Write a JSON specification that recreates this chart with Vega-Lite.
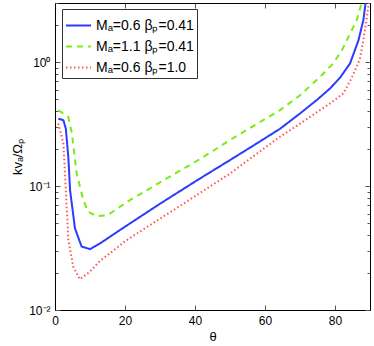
{
  "$schema": "https://vega.github.io/schema/vega-lite/v6.json",
  "width": 315,
  "height": 307,
  "autosize": {"type": "none"},
  "padding": {"left": 55, "top": 3, "right": 4, "bottom": 36},
  "background": "white",
  "config": {
    "view": {"stroke": "black", "strokeWidth": 1},
    "font": "Liberation Sans",
    "axis": {
      "labelFont": "Liberation Sans",
      "titleFont": "Liberation Sans",
      "labelFontSize": 12,
      "titleFontSize": 13,
      "titleFontWeight": "normal",
      "labelColor": "black",
      "titleColor": "black",
      "domainColor": "black",
      "tickColor": "#555",
      "grid": false
    }
  },
  "data": {
    "values": [
      {"series": "Mₐ=0.6 βₚ=0.41", "theta": 0.95, "k": 0.35},
      {"series": "Mₐ=0.6 βₚ=0.41", "theta": 2.4, "k": 0.34},
      {"series": "Mₐ=0.6 βₚ=0.41", "theta": 3.1, "k": 0.29},
      {"series": "Mₐ=0.6 βₚ=0.41", "theta": 3.8, "k": 0.172},
      {"series": "Mₐ=0.6 βₚ=0.41", "theta": 4.3, "k": 0.093},
      {"series": "Mₐ=0.6 βₚ=0.41", "theta": 5.7, "k": 0.0456},
      {"series": "Mₐ=0.6 βₚ=0.41", "theta": 7.6, "k": 0.0325},
      {"series": "Mₐ=0.6 βₚ=0.41", "theta": 10, "k": 0.031},
      {"series": "Mₐ=0.6 βₚ=0.41", "theta": 12.9, "k": 0.0345},
      {"series": "Mₐ=0.6 βₚ=0.41", "theta": 15.7, "k": 0.039},
      {"series": "Mₐ=0.6 βₚ=0.41", "theta": 20, "k": 0.047},
      {"series": "Mₐ=0.6 βₚ=0.41", "theta": 30, "k": 0.072},
      {"series": "Mₐ=0.6 βₚ=0.41", "theta": 35.7, "k": 0.091},
      {"series": "Mₐ=0.6 βₚ=0.41", "theta": 41.4, "k": 0.115},
      {"series": "Mₐ=0.6 βₚ=0.41", "theta": 50, "k": 0.162},
      {"series": "Mₐ=0.6 βₚ=0.41", "theta": 57, "k": 0.215},
      {"series": "Mₐ=0.6 βₚ=0.41", "theta": 64.3, "k": 0.29},
      {"series": "Mₐ=0.6 βₚ=0.41", "theta": 70, "k": 0.385},
      {"series": "Mₐ=0.6 βₚ=0.41", "theta": 75, "k": 0.5},
      {"series": "Mₐ=0.6 βₚ=0.41", "theta": 78.6, "k": 0.614},
      {"series": "Mₐ=0.6 βₚ=0.41", "theta": 81.5, "k": 0.753},
      {"series": "Mₐ=0.6 βₚ=0.41", "theta": 84.3, "k": 0.976},
      {"series": "Mₐ=0.6 βₚ=0.41", "theta": 86.7, "k": 1.5},
      {"series": "Mₐ=0.6 βₚ=0.41", "theta": 88.1, "k": 2.18},
      {"series": "Mₐ=0.6 βₚ=0.41", "theta": 88.7, "k": 2.96},
      {"series": "Mₐ=0.6 βₚ=0.41", "theta": 89.3, "k": 4.0},
      {"series": "Mₐ=1.1 βₚ=0.41", "theta": 0.95, "k": 0.41},
      {"series": "Mₐ=1.1 βₚ=0.41", "theta": 3.3, "k": 0.37},
      {"series": "Mₐ=1.1 βₚ=0.41", "theta": 3.8, "k": 0.36},
      {"series": "Mₐ=1.1 βₚ=0.41", "theta": 4.8, "k": 0.27},
      {"series": "Mₐ=1.1 βₚ=0.41", "theta": 6.2, "k": 0.126},
      {"series": "Mₐ=1.1 βₚ=0.41", "theta": 8.1, "k": 0.077},
      {"series": "Mₐ=1.1 βₚ=0.41", "theta": 9.5, "k": 0.062},
      {"series": "Mₐ=1.1 βₚ=0.41", "theta": 11.9, "k": 0.057},
      {"series": "Mₐ=1.1 βₚ=0.41", "theta": 14.3, "k": 0.058},
      {"series": "Mₐ=1.1 βₚ=0.41", "theta": 15.7, "k": 0.06},
      {"series": "Mₐ=1.1 βₚ=0.41", "theta": 21.4, "k": 0.077},
      {"series": "Mₐ=1.1 βₚ=0.41", "theta": 30, "k": 0.107},
      {"series": "Mₐ=1.1 βₚ=0.41", "theta": 35.7, "k": 0.133},
      {"series": "Mₐ=1.1 βₚ=0.41", "theta": 41.4, "k": 0.165},
      {"series": "Mₐ=1.1 βₚ=0.41", "theta": 50, "k": 0.235},
      {"series": "Mₐ=1.1 βₚ=0.41", "theta": 57, "k": 0.309},
      {"series": "Mₐ=1.1 βₚ=0.41", "theta": 64.3, "k": 0.41},
      {"series": "Mₐ=1.1 βₚ=0.41", "theta": 70, "k": 0.54},
      {"series": "Mₐ=1.1 βₚ=0.41", "theta": 75.7, "k": 0.76},
      {"series": "Mₐ=1.1 βₚ=0.41", "theta": 79.5, "k": 0.977},
      {"series": "Mₐ=1.1 βₚ=0.41", "theta": 82, "k": 1.25},
      {"series": "Mₐ=1.1 βₚ=0.41", "theta": 84.3, "k": 1.7},
      {"series": "Mₐ=1.1 βₚ=0.41", "theta": 86.2, "k": 2.18},
      {"series": "Mₐ=1.1 βₚ=0.41", "theta": 87.6, "k": 3.0},
      {"series": "Mₐ=1.1 βₚ=0.41", "theta": 88.3, "k": 3.8},
      {"series": "Mₐ=0.6 βₚ=1.0", "theta": 0.95, "k": 0.32},
      {"series": "Mₐ=0.6 βₚ=1.0", "theta": 2.4, "k": 0.22},
      {"series": "Mₐ=0.6 βₚ=1.0", "theta": 3.1, "k": 0.093},
      {"series": "Mₐ=0.6 βₚ=1.0", "theta": 3.8, "k": 0.037},
      {"series": "Mₐ=0.6 βₚ=1.0", "theta": 5.2, "k": 0.0224},
      {"series": "Mₐ=0.6 βₚ=1.0", "theta": 7.1, "k": 0.0177},
      {"series": "Mₐ=0.6 βₚ=1.0", "theta": 10, "k": 0.0204},
      {"series": "Mₐ=0.6 βₚ=1.0", "theta": 12.9, "k": 0.025},
      {"series": "Mₐ=0.6 βₚ=1.0", "theta": 15.7, "k": 0.0287},
      {"series": "Mₐ=0.6 βₚ=1.0", "theta": 20, "k": 0.0359},
      {"series": "Mₐ=0.6 βₚ=1.0", "theta": 25.7, "k": 0.0456},
      {"series": "Mₐ=0.6 βₚ=1.0", "theta": 30, "k": 0.0546},
      {"series": "Mₐ=0.6 βₚ=1.0", "theta": 35.7, "k": 0.069},
      {"series": "Mₐ=0.6 βₚ=1.0", "theta": 41.4, "k": 0.088},
      {"series": "Mₐ=0.6 βₚ=1.0", "theta": 50, "k": 0.126},
      {"series": "Mₐ=0.6 βₚ=1.0", "theta": 57, "k": 0.177},
      {"series": "Mₐ=0.6 βₚ=1.0", "theta": 64.3, "k": 0.25},
      {"series": "Mₐ=0.6 βₚ=1.0", "theta": 68.6, "k": 0.3},
      {"series": "Mₐ=0.6 βₚ=1.0", "theta": 72.9, "k": 0.362},
      {"series": "Mₐ=0.6 βₚ=1.0", "theta": 75.7, "k": 0.41},
      {"series": "Mₐ=0.6 βₚ=1.0", "theta": 78.6, "k": 0.464},
      {"series": "Mₐ=0.6 βₚ=1.0", "theta": 82.4, "k": 0.56},
      {"series": "Mₐ=0.6 βₚ=1.0", "theta": 84.6, "k": 0.73},
      {"series": "Mₐ=0.6 βₚ=1.0", "theta": 86.2, "k": 0.92},
      {"series": "Mₐ=0.6 βₚ=1.0", "theta": 87.1, "k": 1.06},
      {"series": "Mₐ=0.6 βₚ=1.0", "theta": 88.1, "k": 1.5},
      {"series": "Mₐ=0.6 βₚ=1.0", "theta": 89.1, "k": 2.3},
      {"series": "Mₐ=0.6 βₚ=1.0", "theta": 89.9, "k": 3.4}
    ]
  },
  "resolve": {"axis": {"x": "independent", "y": "independent"}},
  "layer": [
    {
      "mark": {"type": "line", "clip": true, "strokeWidth": 2},
      "encoding": {
        "x": {
          "field": "theta", "type": "quantitative",
          "scale": {"domain": [0, 90], "nice": false, "zero": false},
          "axis": {"values": [0, 20, 40, 60, 80], "title": "θ", "tickSize": -5, "labelPadding": 10, "titlePadding": 4, "labelFlush": false}
        },
        "y": {
          "field": "k", "type": "quantitative",
          "scale": {"type": "log", "domain": [0.01, 3], "nice": false},
          "axis": {
            "title": "kvₐ/Ωₚ",
            "values": [0.01, 0.02, 0.03, 0.04, 0.05, 0.06, 0.07, 0.08, 0.09, 0.1, 0.2, 0.3, 0.4, 0.5, 0.6, 0.7, 0.8, 0.9, 1, 2, 3],
            "labelExpr": "datum.value == 0.01 ? '10⁻²' : datum.value == 0.1 ? '10⁻¹' : datum.value == 1 ? '10⁰' : ''",
            "tickSize": {"condition": {"test": "datum.value == 0.01 || datum.value == 0.1 || datum.value == 1", "value": -5}, "value": -3},
            "labelPadding": 10,
            "titlePadding": 4,
            "labelFlush": false
          }
        },
        "color": {
          "field": "series", "type": "nominal",
          "scale": {"domain": ["Mₐ=0.6 βₚ=0.41", "Mₐ=1.1 βₚ=0.41", "Mₐ=0.6 βₚ=1.0"], "range": ["#2b3bff", "#77ee11", "#ff5555"]},
          "legend": {
            "title": null, "orient": "none", "legendX": 7, "legendY": 6,
            "strokeColor": "#333", "fillColor": "white", "padding": 3,
            "symbolType": "stroke", "symbolSize": 625, "symbolStrokeWidth": 2,
            "labelFont": "Liberation Sans", "labelFontSize": 14, "labelColor": "black",
            "rowPadding": -2, "labelOffset": 4, "labelLimit": 200
          }
        },
        "strokeDash": {
          "field": "series", "type": "nominal",
          "scale": {"domain": ["Mₐ=0.6 βₚ=0.41", "Mₐ=1.1 βₚ=0.41", "Mₐ=0.6 βₚ=1.0"], "range": [[1, 0], [6, 5], [1.5, 2.5]]},
          "legend": null
        }
      }
    },
    {
      "mark": {"type": "point", "opacity": 0, "clip": true},
      "encoding": {
        "x": {
          "field": "theta", "type": "quantitative",
          "axis": {"orient": "top", "values": [0, 20, 40, 60, 80], "labels": false, "title": null, "tickSize": -5}
        },
        "y": {
          "field": "k", "type": "quantitative",
          "axis": {
            "orient": "right", "labels": false, "title": null,
            "values": [0.01, 0.02, 0.03, 0.04, 0.05, 0.06, 0.07, 0.08, 0.09, 0.1, 0.2, 0.3, 0.4, 0.5, 0.6, 0.7, 0.8, 0.9, 1, 2, 3],
            "tickSize": {"condition": {"test": "datum.value == 0.01 || datum.value == 0.1 || datum.value == 1", "value": -5}, "value": -3}
          }
        }
      }
    }
  ]
}
